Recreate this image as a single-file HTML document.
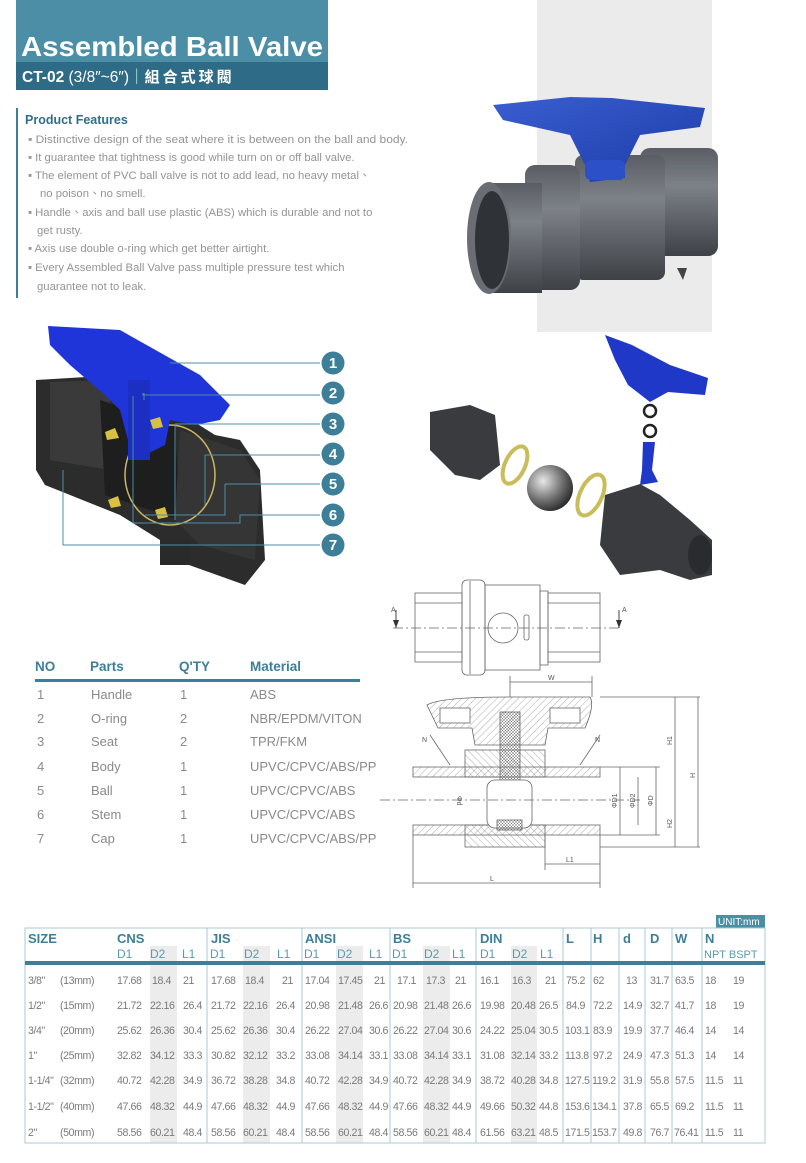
<!DOCTYPE html>
<html><head><meta charset="utf-8"><style>
html,body{margin:0;padding:0;background:#fff;}
svg{display:block;font-family:"Liberation Sans","Noto Sans CJK TC",sans-serif;}
.f{font-size:11.3px;fill:#949494;}
.pt{font-size:13px;fill:#8a8a8a;}
.ph{font-size:13.5px;fill:#3d7f98;font-weight:bold;}
.th{font-size:13px;fill:#3d7f98;font-weight:bold;}
.ts{font-size:12px;fill:#5a9ab0;}
.td{font-size:10.6px;fill:#7a7a7a;letter-spacing:-0.4px;}
.dl{stroke:#666;stroke-width:0.8;fill:none;}
.dt{font-size:7px;fill:#555;}
</style></head><body>
<svg width="806" height="1163" viewBox="0 0 806 1163" xmlns="http://www.w3.org/2000/svg">
<defs>
<pattern id="hat" width="5" height="5" patternUnits="userSpaceOnUse" patternTransform="rotate(45)"><line x1="0" y1="0" x2="0" y2="5" stroke="#888" stroke-width="0.7"/></pattern>
<pattern id="hat2" width="5" height="5" patternUnits="userSpaceOnUse" patternTransform="rotate(-45)"><line x1="0" y1="0" x2="0" y2="5" stroke="#888" stroke-width="0.7"/></pattern>
<pattern id="xh" width="3" height="3" patternUnits="userSpaceOnUse"><path d="M0 0L3 3M3 0L0 3" stroke="#777" stroke-width="0.5"/></pattern>
<linearGradient id="gp" x1="0" y1="0" x2="0" y2="1"><stop offset="0" stop-color="#5a5e64"/><stop offset="0.35" stop-color="#7d8188"/><stop offset="1" stop-color="#3e4146"/></linearGradient>
<linearGradient id="gb" x1="0" y1="0" x2="1" y2="1"><stop offset="0" stop-color="#3a5fd0"/><stop offset="1" stop-color="#1c3aa8"/></linearGradient>
<radialGradient id="ball" cx="0.35" cy="0.35" r="0.7"><stop offset="0" stop-color="#e8e8e8"/><stop offset="0.6" stop-color="#707070"/><stop offset="1" stop-color="#2a2a2a"/></radialGradient>
</defs>

<!-- header -->
<rect x="16" y="0" width="312" height="90" fill="#4b8ea6"/>
<rect x="16" y="62" width="312" height="28" fill="#2d6b86"/>
<text x="21" y="56" font-size="27.5" font-weight="bold" fill="#fff" textLength="302" lengthAdjust="spacingAndGlyphs">Assembled Ball Valve</text>
<text x="22" y="82" font-size="15.5" font-weight="bold" fill="#fff">CT-02 <tspan font-weight="normal">(3/8″~6″)</tspan><tspan font-weight="normal" fill="#cfe">｜</tspan><tspan font-size="15" letter-spacing="3">組合式球閥</tspan></text>

<!-- features -->
<rect x="16" y="108" width="2" height="190" fill="#3d7f98"/>
<text x="25" y="124" font-size="12.5" font-weight="bold" fill="#2f6f8c">Product Features</text>
<g class="f">
<text x="28" y="143" textLength="380" lengthAdjust="spacingAndGlyphs">▪ Distinctive design of the seat where it is between on the ball and body.</text>
<text x="28" y="161">▪ It guarantee that tightness is good while turn on or off ball valve.</text>
<text x="28" y="179">▪ The element of PVC ball valve is not to add lead, no heavy metal、</text>
<text x="40" y="197">no poison、no smell.</text>
<text x="28" y="216">▪ Handle、axis and ball use plastic (ABS) which is durable and not to</text>
<text x="37" y="234">get rusty.</text>
<text x="28" y="252">▪ Axis use double o-ring which get better airtight.</text>
<text x="28" y="271">▪ Every Assembled Ball Valve pass multiple pressure test which</text>
<text x="37" y="290">guarantee not to leak.</text>
</g>

<!-- product photo -->
<rect x="537" y="0" width="175" height="332" fill="#ebebeb"/>
<rect x="640" y="148" width="78" height="108" rx="10" fill="url(#gp)"/>
<rect x="575" y="155" width="90" height="125" rx="8" fill="url(#gp)"/>
<rect x="525" y="165" width="55" height="125" rx="10" fill="url(#gp)"/>
<rect x="487" y="183" width="55" height="110" fill="url(#gp)"/>
<ellipse cx="489" cy="238" rx="22" ry="56" fill="#6a6e74"/>
<ellipse cx="492" cy="240" rx="17" ry="49" fill="#2f3236"/>
<path d="M677 268 l6 12 l4 -12z" fill="#444"/>
<polygon points="493,105 570,97 612,98 705,108 700,127 640,135 625,165 625,178 590,182 585,165 570,135 503,120" fill="url(#gb)"/>
<rect x="585" y="160" width="40" height="20" rx="6" fill="#2c50c8"/>

<!-- cutaway -->
<path d="M36 380 L120 375 L215 435 L240 440 L260 470 L265 560 L245 585 L175 560 L160 540 L120 515 L45 485 L36 470 Z" fill="#2c2c2c"/>
<path d="M50 382 L110 380 L110 470 L50 460 Z" fill="#3a3a3a"/>
<path d="M100 400 L175 425 L180 520 L105 495 Z" fill="#1e1e1e"/>
<path d="M180 430 L240 450 L260 480 L255 560 L200 545 L175 520 Z" fill="#353535"/>
<ellipse cx="170" cy="475" rx="45" ry="50" fill="none" stroke="#c9b860" stroke-width="1.5"/>
<rect x="160" y="540" width="30" height="25" fill="#2a2a2a"/>
<path d="M48 326 L120 330 L200 375 L230 405 L220 420 L195 425 L170 420 L165 445 L145 455 L128 440 L120 410 L105 395 L70 365 L50 345 Z" fill="#1f35d9"/>
<rect x="128" y="380" width="22" height="80" fill="#1d2fc2"/>
<path d="M105 432 l10 -4 l4 10 l-12 2z M150 420 l10 -3 l3 10 l-10 2z M108 500 l10 -4 l3 10 l-10 2z M155 510 l10 -3 l3 10 l-10 2z" fill="#d8c040"/>
<g stroke="#4b8ea6" stroke-width="1" fill="none">
<path d="M170 363 H320"/><path d="M143 393 V395 H320" /><path d="M144 400 V393"/><path d="M175 424 H320 M175 424 V520"/>
<path d="M205 455 H320 M205 455 V505"/><path d="M225 484 H320 M225 484 V515 H145"/>
<path d="M133 396 V523 H240 V515 H320"/><path d="M63 470 V545 H320"/>
</g>
<g font-size="15" font-weight="bold" fill="#fff" text-anchor="middle">
<circle cx="333" cy="363" r="11.5" fill="#3d7f98"/><text x="333" y="368">1</text>
<circle cx="333" cy="393" r="11.5" fill="#3d7f98"/><text x="333" y="398">2</text>
<circle cx="333" cy="424" r="11.5" fill="#3d7f98"/><text x="333" y="429">3</text>
<circle cx="333" cy="454" r="11.5" fill="#3d7f98"/><text x="333" y="459">4</text>
<circle cx="333" cy="484" r="11.5" fill="#3d7f98"/><text x="333" y="489">5</text>
<circle cx="333" cy="515" r="11.5" fill="#3d7f98"/><text x="333" y="520">6</text>
<circle cx="333" cy="545" r="11.5" fill="#3d7f98"/><text x="333" y="550">7</text>
</g>

<!-- exploded -->
<polygon points="605,335 632,345 670,365 708,378 705,395 668,392 650,402 628,385 615,360" fill="#1f38c8"/>
<circle cx="650" cy="411" r="6" fill="none" stroke="#222" stroke-width="2.5"/>
<circle cx="650" cy="431" r="6" fill="none" stroke="#222" stroke-width="2.5"/>
<path d="M643 442 L655 442 L652 470 L658 482 L640 485 L642 470 Z" fill="#1f38c8"/>
<path d="M430 412 L470 405 L495 415 L500 465 L480 480 L455 475 L430 450 Z" fill="#3a3b3e"/>
<ellipse cx="515" cy="465" rx="10" ry="20" fill="none" stroke="#c8bd5a" stroke-width="4" transform="rotate(25 515 465)"/>
<circle cx="550" cy="488" r="23" fill="url(#ball)"/>
<ellipse cx="591" cy="495" rx="11" ry="22" fill="none" stroke="#c8bd5a" stroke-width="4" transform="rotate(25 591 495)"/>
<path d="M605 495 L640 484 L660 495 L690 520 L712 540 L712 575 L690 580 L660 570 L620 575 L600 545 Z" fill="#3a3b3e"/>
<ellipse cx="700" cy="555" rx="12" ry="20" fill="#2a2b2e"/>

<!-- top view drawing -->
<g class="dl">
<rect x="415" y="593" width="47" height="69"/>
<path d="M415 603H462M415 652H462"/>
<rect x="462" y="580" width="23" height="95" rx="5"/>
<path d="M470 581V674"/>
<rect x="485" y="585" width="55" height="85"/>
<rect x="540" y="591" width="8" height="74"/>
<rect x="548" y="593" width="52" height="69"/>
<path d="M548 603H600M548 652H600"/>
<path d="M393 628H622" stroke-dasharray="10 3 2 3"/>
<circle cx="503" cy="628" r="15"/>
<rect x="524" y="615" width="5" height="25" rx="2"/>
</g>
<path d="M396 610V628 M619 610V628" stroke="#444"/>
<path d="M393 620l3 8l3-8z M616 620l3 8l3-8z" fill="#333"/>
<text x="391" y="612" class="dt">A</text><text x="622" y="612" class="dt">A</text>

<!-- section view -->
<g class="dl">
<path d="M427 705 Q440 697 510 697 L590 697 Q595 705 585 728 L548 728 L545 745 L475 745 L472 728 L438 728 Z" fill="url(#hat)"/>
<rect x="440" y="708" width="30" height="15" fill="#fff"/><rect x="550" y="708" width="30" height="15" fill="#fff"/>
<rect x="413" y="767" width="187" height="10" fill="url(#hat)"/>
<rect x="413" y="825" width="187" height="10" fill="url(#hat)"/>
<rect x="465" y="750" width="80" height="27" fill="url(#hat2)"/>
<rect x="465" y="825" width="80" height="22" fill="url(#hat2)"/>
<rect x="500" y="712" width="20" height="70" fill="url(#xh)"/>
<rect x="487" y="780" width="45" height="48" rx="8" fill="#fff"/>
<rect x="497" y="820" width="25" height="10" fill="url(#xh)"/>
<path d="M380 800H640" stroke-dasharray="10 3 2 3"/>
<path d="M510 682H592 M510 676V697 M592 676V697"/>
<path d="M600 697H700 M600 847H700 M675 697V847 M698 697V847"/>
<path d="M600 767H660 M600 835H660 M620 767V835 M638 777V825 M656 767V835"/>
<path d="M545 835V870 M545 864H600 M413 835V888 M600 835V888 M413 883H600"/>
<path d="M430 735 L450 765 M600 735 L580 765"/>
</g>
<g class="dt">
<text x="548" y="680">W</text><text x="422" y="742">N</text><text x="595" y="742">N</text>
<text x="672" y="745" transform="rotate(-90 672 745)">H1</text>
<text x="695" y="778" transform="rotate(-90 695 778)">H</text>
<text x="672" y="828" transform="rotate(-90 672 828)">H2</text>
<text x="617" y="808" transform="rotate(-90 617 808)">ΦD1</text>
<text x="635" y="808" transform="rotate(-90 635 808)">ΦD2</text>
<text x="653" y="806" transform="rotate(-90 653 806)">ΦD</text>
<text x="457" y="796" transform="rotate(90 457 796)">Φd</text>
<text x="566" y="862">L1</text><text x="490" y="881">L</text>
</g>

<!-- parts table -->
<g class="ph"><text x="35" y="671">NO</text><text x="90" y="671">Parts</text><text x="179" y="671">Q'TY</text><text x="250" y="671">Material</text></g>
<rect x="35" y="679" width="325" height="3" fill="#3d7f98"/>
<g class="pt">
<text x="37" y="699">1</text><text x="91" y="699">Handle</text><text x="180" y="699">1</text><text x="250" y="699">ABS</text>
<text x="37" y="723">2</text><text x="91" y="723">O-ring</text><text x="180" y="723">2</text><text x="250" y="723">NBR/EPDM/VITON</text>
<text x="37" y="746">3</text><text x="91" y="746">Seat</text><text x="180" y="746">2</text><text x="250" y="746">TPR/FKM</text>
<text x="37" y="771">4</text><text x="91" y="771">Body</text><text x="180" y="771">1</text><text x="250" y="771">UPVC/CPVC/ABS/PP</text>
<text x="37" y="795">5</text><text x="91" y="795">Ball</text><text x="180" y="795">1</text><text x="250" y="795">UPVC/CPVC/ABS</text>
<text x="37" y="819">6</text><text x="91" y="819">Stem</text><text x="180" y="819">1</text><text x="250" y="819">UPVC/CPVC/ABS</text>
<text x="37" y="843">7</text><text x="91" y="843">Cap</text><text x="180" y="843">1</text><text x="250" y="843">UPVC/CPVC/ABS/PP</text>
</g>

<!-- size table -->
<rect x="716" y="915" width="49" height="13" fill="#4b8ea6"/>
<text x="718" y="925" font-size="10" fill="#fff">UNIT:mm</text>
<g fill="#ececec">
<rect x="150" y="946" width="27" height="197"/><rect x="243" y="946" width="27" height="197"/>
<rect x="336" y="946" width="27" height="197"/><rect x="423" y="946" width="27" height="197"/>
<rect x="511" y="946" width="26" height="197"/>
</g>
<rect x="25" y="928" width="740" height="215" fill="none" stroke="#a8cad6" stroke-width="1"/>
<g stroke="#a8cad6" stroke-width="1">
<path d="M207 928V1143M302 928V1143M390 928V1143M476 928V1143M563 928V1143M591 928V1143M619 928V1143M645 928V1143M672 928V1143M702 928V1143"/>
</g>
<rect x="25" y="961" width="740" height="4" fill="#3d7f98"/>
<g class="th">
<text x="28" y="943">SIZE</text><text x="117" y="943">CNS</text><text x="211" y="943">JIS</text><text x="305" y="943">ANSI</text><text x="393" y="943">BS</text><text x="480" y="943">DIN</text>
<text x="566" y="943">L</text><text x="593" y="943">H</text><text x="623" y="943">d</text><text x="650" y="943">D</text><text x="675" y="943">W</text><text x="705" y="943">N</text>
</g>
<g class="ts">
<text x="117" y="958">D1</text><text x="150" y="958">D2</text><text x="182" y="958">L1</text>
<text x="210" y="958">D1</text><text x="244" y="958">D2</text><text x="277" y="958">L1</text>
<text x="304" y="958">D1</text><text x="337" y="958">D2</text><text x="369" y="958">L1</text>
<text x="392" y="958">D1</text><text x="424" y="958">D2</text><text x="452" y="958">L1</text>
<text x="480" y="958">D1</text><text x="512" y="958">D2</text><text x="540" y="958">L1</text>
<text x="704" y="958" font-size="11">NPT BSPT</text>
</g>
<g class="td">
<g transform="translate(0,984)">
<text x="28">3/8"</text><text x="60">(13mm)</text><text x="117">17.68</text><text x="152">18.4</text><text x="183">21</text><text x="211">17.68</text><text x="245">18.4</text><text x="282">21</text><text x="305">17.04</text><text x="338">17.45</text><text x="374">21</text><text x="397">17.1</text><text x="426">17.3</text><text x="455">21</text><text x="480">16.1</text><text x="512">16.3</text><text x="545">21</text><text x="566">75.2</text><text x="593">62</text><text x="626">13</text><text x="650">31.7</text><text x="675">63.5</text><text x="705">18</text><text x="733">19</text></g>
<g transform="translate(0,1009)">
<text x="28">1/2"</text><text x="60">(15mm)</text><text x="117">21.72</text><text x="150">22.16</text><text x="183">26.4</text><text x="211">21.72</text><text x="243">22.16</text><text x="276">26.4</text><text x="305">20.98</text><text x="338">21.48</text><text x="369">26.6</text><text x="393">20.98</text><text x="424">21.48</text><text x="452">26.6</text><text x="480">19.98</text><text x="511">20.48</text><text x="539">26.5</text><text x="566">84.9</text><text x="593">72.2</text><text x="623">14.9</text><text x="650">32.7</text><text x="675">41.7</text><text x="705">18</text><text x="733">19</text></g>
<g transform="translate(0,1034)">
<text x="28">3/4"</text><text x="60">(20mm)</text><text x="117">25.62</text><text x="150">26.36</text><text x="183">30.4</text><text x="211">25.62</text><text x="243">26.36</text><text x="276">30.4</text><text x="305">26.22</text><text x="338">27.04</text><text x="369">30.6</text><text x="393">26.22</text><text x="424">27.04</text><text x="452">30.6</text><text x="480">24.22</text><text x="511">25.04</text><text x="539">30.5</text><text x="565">103.1</text><text x="593">83.9</text><text x="623">19.9</text><text x="650">37.7</text><text x="675">46.4</text><text x="705">14</text><text x="733">14</text></g>
<g transform="translate(0,1059)">
<text x="28">1"</text><text x="60">(25mm)</text><text x="117">32.82</text><text x="150">34.12</text><text x="183">33.3</text><text x="211">30.82</text><text x="243">32.12</text><text x="276">33.2</text><text x="305">33.08</text><text x="338">34.14</text><text x="369">33.1</text><text x="393">33.08</text><text x="424">34.14</text><text x="452">33.1</text><text x="480">31.08</text><text x="511">32.14</text><text x="539">33.2</text><text x="565">113.8</text><text x="593">97.2</text><text x="623">24.9</text><text x="650">47.3</text><text x="675">51.3</text><text x="705">14</text><text x="733">14</text></g>
<g transform="translate(0,1084)">
<text x="28">1-1/4"</text><text x="60">(32mm)</text><text x="117">40.72</text><text x="150">42.28</text><text x="183">34.9</text><text x="211">36.72</text><text x="243">38.28</text><text x="276">34.8</text><text x="305">40.72</text><text x="338">42.28</text><text x="369">34.9</text><text x="393">40.72</text><text x="424">42.28</text><text x="452">34.9</text><text x="480">38.72</text><text x="511">40.28</text><text x="539">34.8</text><text x="565">127.5</text><text x="592">119.2</text><text x="623">31.9</text><text x="650">55.8</text><text x="675">57.5</text><text x="705">11.5</text><text x="733">11</text></g>
<g transform="translate(0,1110)">
<text x="28">1-1/2"</text><text x="60">(40mm)</text><text x="117">47.66</text><text x="150">48.32</text><text x="183">44.9</text><text x="211">47.66</text><text x="243">48.32</text><text x="276">44.9</text><text x="305">47.66</text><text x="338">48.32</text><text x="369">44.9</text><text x="393">47.66</text><text x="424">48.32</text><text x="452">44.9</text><text x="480">49.66</text><text x="511">50.32</text><text x="539">44.8</text><text x="565">153.6</text><text x="592">134.1</text><text x="623">37.8</text><text x="650">65.5</text><text x="675">69.2</text><text x="705">11.5</text><text x="733">11</text></g>
<g transform="translate(0,1136)">
<text x="28">2"</text><text x="60">(50mm)</text><text x="117">58.56</text><text x="150">60.21</text><text x="183">48.4</text><text x="211">58.56</text><text x="243">60.21</text><text x="276">48.4</text><text x="305">58.56</text><text x="338">60.21</text><text x="369">48.4</text><text x="393">58.56</text><text x="424">60.21</text><text x="452">48.4</text><text x="480">61.56</text><text x="511">63.21</text><text x="539">48.5</text><text x="565">171.5</text><text x="592">153.7</text><text x="623">49.8</text><text x="650">76.7</text><text x="674">76.41</text><text x="705">11.5</text><text x="733">11</text></g>
</g>
</svg>
</body></html>
